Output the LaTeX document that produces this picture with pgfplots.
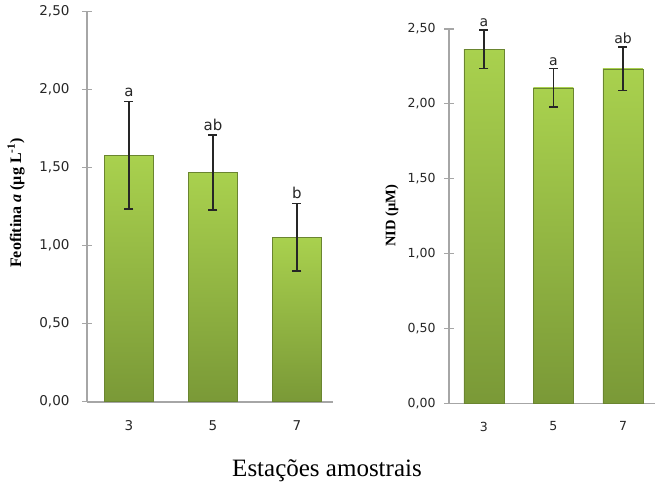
\documentclass[border=0pt]{standalone}
\usepackage{pgfplots}
\pgfplotsset{compat=1.18}
\usepackage{fontspec}
\setmainfont{Liberation Serif}
\newfontfamily\tickfont{DejaVu Sans}
\definecolor{axgray}{HTML}{A6A6A6}
\definecolor{bartop}{HTML}{A9D14E}
\definecolor{barbot}{HTML}{7A9937}
\definecolor{baredge}{HTML}{6A8530}
\tikzset{lettr/.style={anchor=south, inner sep=0pt, text=black!85, font=\tickfont\fontsize{#1}{#1}\selectfont}}
\pgfplotsset{
  mybar/.style={ybar, bar width=#1, bar shift=0pt, draw=baredge, line width=0.6pt,
    top color=bartop, bottom color=barbot,
    error bars/.cd, y dir=both, y explicit,
    error bar style={line width=1.4pt, black!85},
    error mark options={rotate=90, line width=1.4pt, black!85, mark size=4.5pt}},
  myaxis/.style={
    scale only axis, anchor=south west,
    axis x line=bottom, axis y line=left,
    axis line style={axgray, line width=1.6pt, -},
    ymin=0, ymax=2.5, ytick={0,0.5,1,1.5,2,2.5},
    xtick={0,1,2}, xticklabels={3,5,7},
    tick align=center, major tick length=10pt,
    ytick style={axgray, line width=1.2pt},
    xtick style={draw=none},
    /pgf/number format/assume math mode=true,
    /pgf/number format/use comma,
    /pgf/number format/fixed,
    /pgf/number format/fixed zerofill,
    /pgf/number format/precision=2,
    clip=false,
  },
}
\begin{document}
\begin{tikzpicture}
\path[use as bounding box] (0pt,0pt) rectangle (655pt,483pt);
% left chart
\begin{axis}[myaxis, at={(87pt,81.3pt)}, width=246pt, height=390pt,
  xmin=-0.5, xmax=2.43,
  yticklabel style={font=\tickfont\fontsize{13.5}{13.5}\selectfont, text=black!85, xshift=-9pt},
  xticklabel style={font=\tickfont\fontsize{13.5}{13.5}\selectfont, text=black!85, yshift=-10pt}]
\addplot[mybar=49pt] coordinates {(0,1.58) +- (0,0.345)};
\addplot[mybar=49pt] coordinates {(1,1.47) +- (0,0.24)};
\addplot[mybar=49pt] coordinates {(2,1.055) +- (0,0.217)};
\node[lettr=15, yshift=4pt] at (axis cs:0,1.925) {a};
\node[lettr=15, yshift=4pt] at (axis cs:1,1.71) {ab};
\node[lettr=15, yshift=4pt] at (axis cs:2,1.272) {b};
\end{axis}
% right chart
\begin{axis}[myaxis, at={(449pt,79.7pt)}, width=206pt, height=374.3pt,
  xmin=-0.5, xmax=2.46,
  yticklabel style={font=\tickfont\fontsize{12.5}{12.5}\selectfont, text=black!85, xshift=-5pt},
  xticklabel style={font=\tickfont\fontsize{12.5}{12.5}\selectfont, text=black!85, yshift=-10pt}]
\addplot[mybar=40pt] coordinates {(0,2.365) +- (0,0.127)};
\addplot[mybar=40pt] coordinates {(1,2.107) +- (0,0.128)};
\addplot[mybar=40pt] coordinates {(2,2.234) +- (0,0.146)};
\node[lettr=14, yshift=3pt] at (axis cs:0,2.492) {a};
\node[lettr=14, yshift=3pt] at (axis cs:1,2.235) {a};
\node[lettr=14, yshift=3pt] at (axis cs:2,2.38) {ab};
\end{axis}
% axis titles
\node[rotate=90, font=\fontsize{16}{16}\selectfont\bfseries] at (16pt,280pt) {Feofitina \textit{a} (µg L\textsuperscript{-1})};
\node[rotate=90, font=\fontsize{14.5}{14.5}\selectfont\bfseries] at (392pt,267pt) {NID (µM)};
\node[anchor=base, font=\fontsize{25}{25}\selectfont] at (327pt,7pt) {Estações amostrais};
\end{tikzpicture}
\end{document}
